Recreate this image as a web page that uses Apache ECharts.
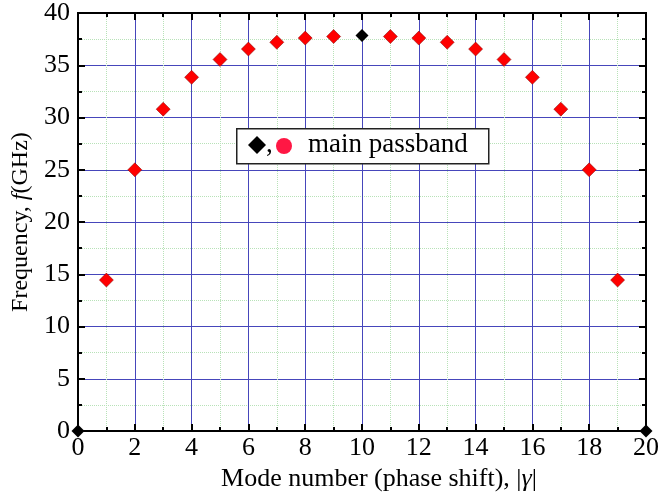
<!DOCTYPE html>
<html>
<head>
<meta charset="utf-8">
<script src="https://cdn.jsdelivr.net/npm/echarts@6/dist/echarts.min.js"></script>
<style>html,body{margin:0;padding:0;background:#fff}#c{width:662px;height:497px}</style>
</head>
<body>
<div id="c"></div>
<script>
// Data (mode number, frequency in GHz)
const redModes = [1,2,3,4,5,6,7,8,9,11,12,13,14,15,16,17,18,19];
const redFreq = [14.45,25.0,30.8,33.85,35.55,36.55,37.2,37.6,37.75,37.75,37.6,37.2,36.55,35.55,33.85,30.8,25.0,14.45];
const blackModes = [0,10,20];
const blackFreq = [0,37.85,0];
const xTicks = [0,2,4,6,8,10,12,14,16,18,20];
const yTicks = [0,5,10,15,20,25,30,35,40];

const FONT = '"Liberation Serif", "Times New Roman", serif';
const chart = echarts.init(document.getElementById('c'));

const blue = '#4646bb';
const green = '#b8e2b8';

function frame(extra) {
  const o = {
    type: 'value',
    axisLine: {show: true, onZero: false, lineStyle: {color: '#000', width: 2}},
    axisTick: {show: true, inside: true, length: 7, lineStyle: {color: '#000', width: 2}},
    minorTick: {show: true, splitNumber: 2, length: 4, lineStyle: {color: '#000', width: 2}},
    axisLabel: {show: false},
    splitLine: {show: false},
    minorSplitLine: {show: false}
  };
  for (const k in extra) o[k] = extra[k];
  return o;
}

function rich(fs) {
  return {
    n: {fontFamily: FONT, fontSize: fs, color: '#000'},
    i: {fontFamily: FONT, fontSize: fs, fontStyle: 'italic', color: '#000'}
  };
}

chart.setOption({
  animation: false,
  grid: {left: 78, right: 10, top: 11, bottom: 59, containLabel: false,
         show: true, borderColor: '#000', borderWidth: 2, backgroundColor: 'transparent'},
  xAxis: [
    frame({
      min: xTicks[0], max: xTicks[xTicks.length-1], interval: 2,
      name: '{n|Mode number (phase shift), |}{i|γ}{n||}',
      nameLocation: 'middle', nameGap: 29,
      nameTextStyle: {rich: rich(26), padding: [0, 0, 0, 34]},
      axisLabel: {show: true, fontFamily: FONT, fontSize: 26, color: '#000', margin: 4},
      splitLine: {show: true, lineStyle: {color: blue, width: 1}},
      minorSplitLine: {show: true, lineStyle: {color: green, width: 1, type: 'dotted'}}
    }),
    frame({position: 'top', min: xTicks[0], max: xTicks[xTicks.length-1], interval: 2})
  ],
  yAxis: [
    frame({
      min: yTicks[0], max: yTicks[yTicks.length-1], interval: 5,
      name: '{n|Frequency, }{i|f}{n|(GHz)}',
      nameLocation: 'middle', nameGap: 44, nameRotate: 90,
      nameTextStyle: {rich: rich(24)},
      axisLabel: {show: true, fontFamily: FONT, fontSize: 26, color: '#000', margin: 8},
      splitLine: {show: true, lineStyle: {color: blue, width: 1}},
      minorSplitLine: {show: true, lineStyle: {color: green, width: 1, type: 'dotted'}}
    }),
    frame({position: 'right', min: yTicks[0], max: yTicks[yTicks.length-1], interval: 5})
  ],
  series: [
    {
      type: 'scatter', symbol: 'diamond', symbolSize: 14,
      data: redModes.map((m, i) => [m, redFreq[i]]),
      itemStyle: {color: '#ff0000', opacity: 1, borderColor: '#7a0000', borderWidth: 0.5},
      z: 5
    },
    {
      type: 'scatter', symbol: 'diamond', symbolSize: 13,
      data: blackModes.map((m, i) => [m, blackFreq[i]]),
      itemStyle: {color: '#000', opacity: 1},
      clip: false,
      z: 6
    }
  ],
  graphic: [
    {
      type: 'rect', left: 236, top: 128, z: 100,
      shape: {width: 252, height: 35},
      style: {fill: '#fff', stroke: '#222', lineWidth: 1.5}
    },
    {
      type: 'polygon', z: 101,
      shape: {points: [[257, 136], [266, 145], [257, 154], [248, 145]]},
      style: {fill: '#000'}
    },
    {
      type: 'text', left: 266, top: 131, z: 101,
      style: {text: ',', fontFamily: FONT, fontSize: 27, fill: '#000'}
    },
    {
      type: 'circle', z: 101,
      shape: {cx: 284, cy: 146, r: 8},
      style: {fill: '#ff1744'}
    },
    {
      type: 'text', left: 308, top: 131, z: 101,
      style: {text: 'main passband', fontFamily: FONT, fontSize: 27, fill: '#000'}
    }
  ]
});
</script>
</body>
</html>
